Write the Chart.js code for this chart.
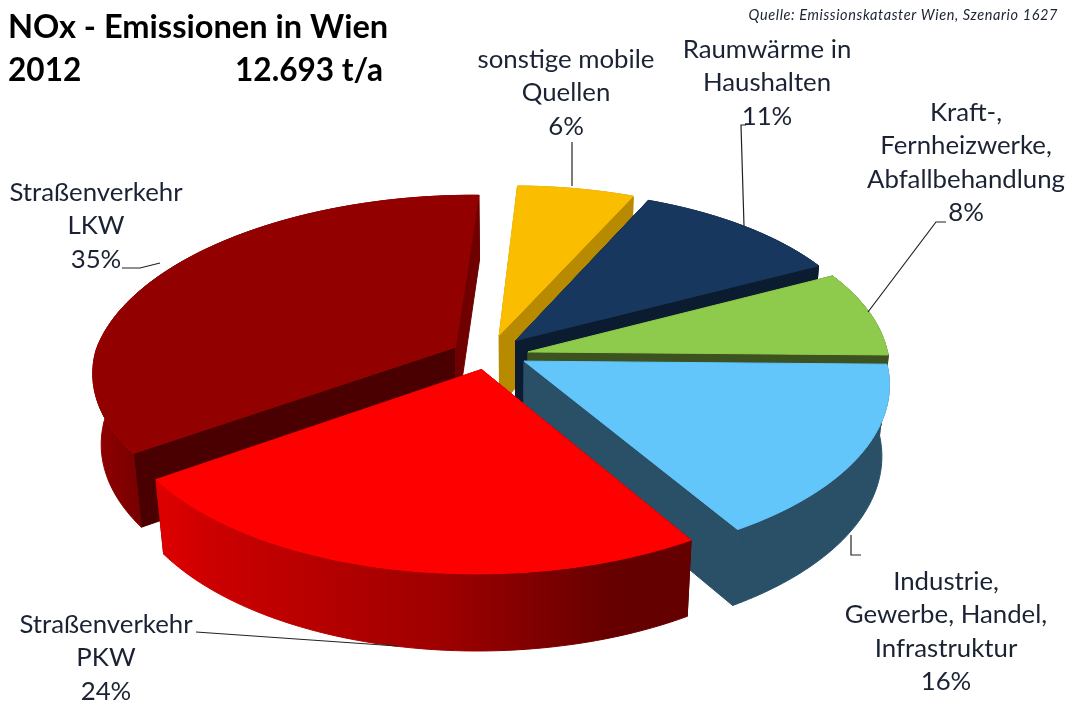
<!DOCTYPE html>
<html>
<head>
<meta charset="utf-8">
<title>NOx - Emissionen in Wien</title>
<script src="https://cdn.jsdelivr.net/npm/chart.js@4"></script>
<style>
  html, body { margin: 0; background: #fff; }
  canvas { display: block; }
</style>
</head>
<body>
<canvas id="pie" width="1068" height="718"></canvas>
<script>
const categories = [
  'sonstige mobile Quellen',
  'Raumwärme in Haushalten',
  'Kraft-, Fernheizwerke, Abfallbehandlung',
  'Industrie, Gewerbe, Handel, Infrastruktur',
  'Straßenverkehr PKW',
  'Straßenverkehr LKW'
];
const shares = [6, 11, 8, 16, 24, 35];
const topColors = ['#fabd00', '#17375e', '#8ecb4c', '#62c6fb', '#ff0000', '#920000'];
const wallColors = ['#b88a00', '#0c1c30', '#3c5320', '#2a5068', '#640000', '#4a0000'];
const endWallColors = ['#b88a00', '#0c1c30', '#3c5320', '#2a5068', '#640000', '#700000'];
const rimStops = [
  null, null, null, null,
  [[0, '#e00000'], [0.1, '#cc0000'], [0.55, '#9c0000'], [0.85, '#660000'], [1, '#640000']],
  [[0, '#920000'], [0.6, '#7a0000'], [1, '#6e0000']]
];

// 3d look: slice pull-out (model px), tilt and perspective
const pullOut = [[-17, -31], [0, -20], [13, 4], [9, 23], [-33, 40], [-60, -6]];
const paintOrder = [0, 1, 5, 2, 3, 4];
const tilt = 0.48, persp = 0.13, depth = 72, backSkew = 0.035;

// label lines next to the pie: text, centre x, first baseline y
const labelLines = [
  [['sonstige mobile', 'Quellen'], 566],
  [['Raumwärme in', 'Haushalten'], 767],
  [['Kraft-,', 'Fernheizwerke,', 'Abfallbehandlung'], 966],
  [['Industrie,', 'Gewerbe, Handel,', 'Infrastruktur'], 946],
  [['Straßenverkehr', 'PKW'], 106],
  [['Straßenverkehr', 'LKW'], 96]
];
const labelTops = [68, 58, 121, 590, 633, 201];
const leaders = [
  [[572, 142], [572, 186]],
  [[746, 125], [741, 125], [744, 226]],
  [[946, 222], [936, 222], [868, 312]],
  [[851, 535], [851, 555], [861, 555]],
  [[196, 632], [397, 646]],
  [[122, 268], [140, 268], [160, 263]]
];

function slicePaths(arc, i) {
  const cx = arc.x - 19, cy = arc.y - 9, R = arc.outerRadius;
  const [ox, oy] = pullOut[i];
  const project = (x, y, z) => {
    const d = 1 - persp * y / R + 0.02 * z / depth;
    return [cx + (x + backSkew * Math.max(0, -y)) / d, cy + (tilt * y + z) / d];
  };
  const rim = (z) => {
    const pts = [];
    for (let s = 0; s <= 60; s++) {
      const a = arc.startAngle + (arc.endAngle - arc.startAngle) * s / 60;
      pts.push(project(ox + R * Math.cos(a), oy + R * Math.sin(a), z));
    }
    return pts;
  };
  return { top: rim(0), bottom: rim(depth), apexTop: project(ox, oy, 0), apexBottom: project(ox, oy, depth) };
}

function fillPoly(ctx, pts, fill) {
  ctx.beginPath();
  pts.forEach((p, n) => n ? ctx.lineTo(p[0], p[1]) : ctx.moveTo(p[0], p[1]));
  ctx.closePath();
  ctx.fillStyle = fill;
  ctx.fill();
  // hide the hairline between wall pieces
  ctx.strokeStyle = fill;
  ctx.lineWidth = 1;
  ctx.stroke();
}

const pie3d = {
  id: 'pie3d',
  beforeDatasetDraw() { return false; },
  afterDatasetsDraw(chart) {
    const ctx = chart.ctx;
    const arcs = chart.getDatasetMeta(0).data;
    paintOrder.forEach((i) => {
      const p = slicePaths(arcs[i], i);
      const last = p.top.length - 1;
      const wall = wallColors[i];
      fillPoly(ctx, [p.apexTop, p.top[0], p.bottom[0], p.apexBottom], wall);
      fillPoly(ctx, [p.apexTop, p.top[last], p.bottom[last], p.apexBottom], endWallColors[i]);
      let rimFill = wall;
      if (rimStops[i]) {
        const xs = p.top.concat(p.bottom).map((q) => q[0]);
        // red rim runs left to right, the dark red one the other way round
        const g = i === 5
          ? ctx.createLinearGradient(Math.min(...xs), 0, Math.min(...xs) + 70, 0)
          : ctx.createLinearGradient(Math.min(...xs), 0, Math.max(...xs), 0);
        rimStops[i].forEach(([at, c]) => g.addColorStop(at, c));
        rimFill = g;
      }
      fillPoly(ctx, p.top.concat(p.bottom.slice().reverse()), rimFill);
      fillPoly(ctx, [p.apexTop].concat(p.top), topColors[i]);
    });
  },
  afterDraw(chart) {
    const ctx = chart.ctx;
    ctx.save();
    ctx.strokeStyle = '#222';
    ctx.lineWidth = 1.2;
    leaders.forEach((l) => {
      ctx.beginPath();
      l.forEach((p, n) => n ? ctx.lineTo(p[0], p[1]) : ctx.moveTo(p[0], p[1]));
      ctx.stroke();
    });

    ctx.fillStyle = '#1a2233';
    ctx.textAlign = 'center';
    ctx.textBaseline = 'alphabetic';
    ctx.font = '25.8px Lato';
    labelLines.forEach(([lines, x], i) => {
      const rows = lines.concat(shares[i] + '%');
      rows.forEach((t, r) => ctx.fillText(t, x, labelTops[i] + r * 33.4));
    });

    ctx.fillStyle = '#000';
    ctx.textAlign = 'left';
    ctx.font = 'bold 32.6px Lato';
    ctx.fillText('NOx - Emissionen in Wien', 8, 38);
    ctx.font = 'bold 31.6px Lato';
    ctx.fillText('2012', 8, 81);
    ctx.fillText('12.693 t/a', 235, 81);
    ctx.fillStyle = '#1a2233';
    ctx.font = 'italic 14.5px Lato';
    ctx.letterSpacing = '0.6px';
    ctx.textAlign = 'right';
    ctx.fillText('Quelle: Emissionskataster Wien, Szenario 1627', 1058, 20);
    ctx.restore();
  }
};

new Chart(document.getElementById('pie'), {
  type: 'pie',
  data: {
    labels: categories,
    datasets: [{ data: shares, backgroundColor: topColors, borderWidth: 0 }]
  },
  options: {
    responsive: false,
    animation: false,
    rotation: 1,
    layout: { padding: 0 },
    plugins: { legend: { display: false }, tooltip: { enabled: false } }
  },
  plugins: [pie3d]
});
</script>
</body>
</html>
